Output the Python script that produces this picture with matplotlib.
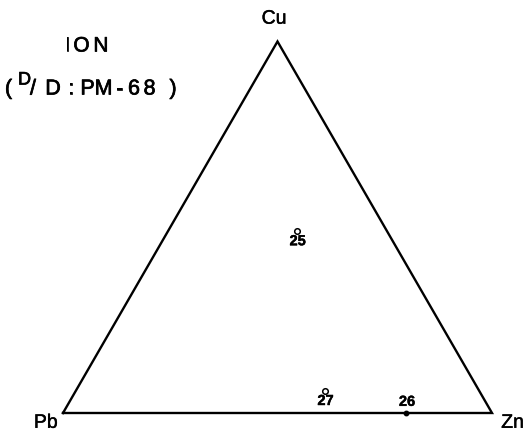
import numpy as np
import matplotlib
matplotlib.use("Agg")
import matplotlib.pyplot as plt
import matplotlib.patheffects as pe

plt.rcParams['font.family'] = ['Liberation Sans', 'DejaVu Sans']

# ── Data: ternary compositions (%) ────────────────────────────────────────────
sample_ids = ["25", "26", "27"]
cu_pct = [49, 0, 6]
zn_pct = [30, 80, 58]
pb_pct = [21, 20, 36]
open_marker = [True, False, True]
label_side = ["below", "above", "below"]

VERTEX_LABELS = ["Pb", "Zn", "Cu"]
H = np.sqrt(3) / 2

# header lines, drawn glyph by glyph (spaced lettering); centres in pixels
title_chars = ["I", "O", "N"]
title_px = [67.5, 81.5, 101]
sub_chars = ["(", "D", "/", "D", ":", "P", "M", "-", "6", "8", ")"]
sub_px = [8.5, 24.5, 33, 53, 71, 87.5, 103.5, 119.5, 134, 149.5, 173]
sub_sup = [False, True, False, False, False, False, False, False, False, False, False]

INK = [pe.withStroke(linewidth=0.5, foreground="black")]
INK_THIN = [pe.withStroke(linewidth=0.3, foreground="black")]


def to_xy(cu, zn, pb):
    """Pb at (0,0), Zn at (1,0), Cu at apex."""
    total = cu + zn + pb
    c, z = cu / total, zn / total
    return z + c / 2, c * H


W, HT = 527, 440
SCALE = 429            # pixels per unit side
X0, Y0 = 63, 413       # Pb vertex in pixels (from top)

fig = plt.figure(figsize=(W / 100, HT / 100), dpi=100)
ax = fig.add_axes([0, 0, 1, 1])
ax.set_xlim(-X0 / SCALE, (W - X0) / SCALE)
ax.set_ylim((Y0 - HT) / SCALE, Y0 / SCALE)
ax.axis("off")

# triangle frame
tri_x = [0, 1, 0.5, 0]
tri_y = [0, 0, H, 0]
ax.plot(tri_x, tri_y, color="black", linewidth=1.7, solid_joinstyle="miter")

# vertex labels
ax.text(-0.04, -0.024, VERTEX_LABELS[0], ha="center", va="center",
        fontsize=14, path_effects=INK_THIN)
ax.text(1.048, -0.024, VERTEX_LABELS[1], ha="center", va="center",
        fontsize=14, path_effects=INK_THIN)
ax.text(0.492, H + 0.052, VERTEX_LABELS[2], ha="center", va="center",
        fontsize=14, path_effects=INK_THIN)

# samples
for sid, cu, zn, pb, is_open, side in zip(sample_ids, cu_pct, zn_pct, pb_pct,
                                          open_marker, label_side):
    x, y = to_xy(cu, zn, pb)
    if is_open:
        ax.plot(x, y, marker="o", markersize=4, markerfacecolor="white",
                markeredgecolor="black", markeredgewidth=1.1)
    else:
        ax.plot(x, y, marker="o", markersize=3.2, color="black")
    dy = -0.024 if side == "below" else 0.026
    ax.text(x + 0.002, y + dy, sid, ha="center", va="center",
            fontsize=10.5, fontweight="bold", path_effects=INK_THIN)

# header
for ch, px in zip(title_chars, title_px):
    fig.text(px / W, 1 - 46 / HT, ch, ha="center", va="center",
             fontsize=15, path_effects=INK)
for ch, px, sup in zip(sub_chars, sub_px, sub_sup):
    if sup:
        fig.text(px / W, 1 - 80 / HT, ch, ha="center", va="center",
                 fontsize=13, path_effects=INK)
    else:
        fig.text(px / W, 1 - 89 / HT, ch, ha="center", va="center",
                 fontsize=15.5, path_effects=INK)

plt.savefig("out.png", dpi=100)
